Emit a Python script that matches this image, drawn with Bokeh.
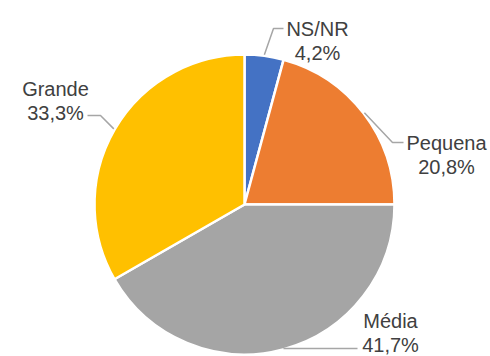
import math
from bokeh.plotting import figure
from bokeh.models import Range1d
from bokeh.core.properties import value
from bokeh.embed import file_html
from bokeh.resources import INLINE

# ---- data ----
categories = ["NS/NR", "Pequena", "Média", "Grande"]
percents = [4.2, 20.8, 41.7, 33.3]
colors = ["#4472C4", "#ED7D31", "#A5A5A5", "#FFC000"]

# ---- layout (picture pixel coordinates, y downwards; converted below) ----
W, H = 490, 356
OX, OY = 0, 0
CX, CY, R = 244, 204, 150
FONT = "'Liberation Sans Narrow', 'Arial Narrow', 'Liberation Sans', Arial, sans-serif"
FS = "20px"
LINE_GAP = 24
# label: text centre x, baseline of first line, leader elbow, leader end
label_layout = {
    "NS/NR":   dict(tx=317, ty=28,  elbow=(273, 28),  end=(283, 28)),
    "Pequena": dict(tx=446, ty=142, elbow=(392, 142), end=(403, 142)),
    "Média":   dict(tx=390, ty=320, elbow=None,       end=(357, 348)),
    "Grande":  dict(tx=55,  ty=88,  elbow=(100, 115), end=(87, 115)),
}


def Y(y):
    return OY + H - y  # picture y (down) -> data y (up)


p = figure(width=W, height=H, output_backend="svg", toolbar_location=None,
           x_range=Range1d(OX, OX + W), y_range=Range1d(0, H),
           min_border=0, background_fill_color="white", border_fill_color="white")
p.axis.visible = False
p.grid.visible = False
p.outline_line_color = None

total = sum(percents)
cum = 0.0
for cat, pct, col in zip(categories, percents, colors):
    f0 = cum / total
    f1 = (cum + pct) / total
    cum += pct
    a0 = math.pi / 2 - 2 * math.pi * f0
    a1 = math.pi / 2 - 2 * math.pi * f1
    p.wedge(x=CX, y=Y(CY), radius=R, start_angle=a0, end_angle=a1,
            direction="clock", fill_color=col, line_color="white", line_width=2.5)

    # leader line starting at the slice's mid-angle on the rim
    fm = (f0 + f1) / 2
    th = 2 * math.pi * fm
    sx = CX + (R + 1) * math.sin(th)
    sy = CY - (R + 1) * math.cos(th)
    lay = label_layout[cat]
    xs, ys = [sx], [sy]
    if lay["elbow"] is not None:
        xs.append(lay["elbow"][0]); ys.append(lay["elbow"][1])
    else:
        ys[0] = lay["end"][1]
    xs.append(lay["end"][0]); ys.append(lay["end"][1])
    p.line(x=xs, y=[Y(v) for v in ys], line_color="#A6A6A6", line_width=1.5)

    pct_txt = f"{pct:.1f}".replace(".", ",") + "%"
    for i, t in enumerate([cat, pct_txt]):
        p.text(x=[lay["tx"]], y=[Y(lay["ty"] + i * LINE_GAP)], text=[t],
               text_font=value(FONT), text_font_size=FS, text_color="#404040",
               text_align="center", text_baseline="alphabetic")

open("out.html", "w").write(file_html(p, INLINE))
